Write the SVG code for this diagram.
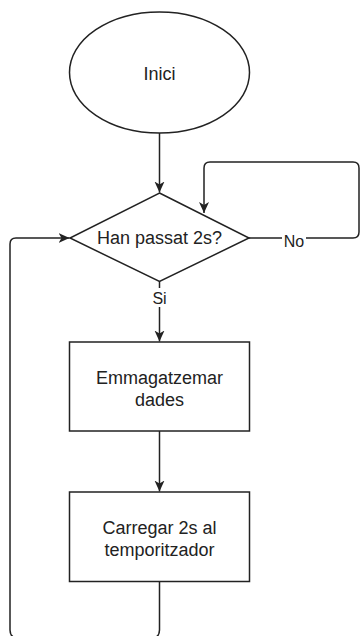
<svg xmlns="http://www.w3.org/2000/svg" width="361" height="636" viewBox="0 0 361 636">
<style>
.shape{fill:#fff;stroke:#222;stroke-width:1.5}
.edge{fill:none;stroke:#222;stroke-width:1.5}
text{font-family:"Liberation Sans",Arial,sans-serif;fill:#222;text-anchor:middle}
.t{font-size:18px}
.l{font-size:16px}
</style>
<defs>
<marker id="arr" viewBox="0 0 12 12" refX="11" refY="6" markerWidth="12" markerHeight="12" markerUnits="userSpaceOnUse" orient="auto">
<path d="M0,1 L11,6 L0,11 L3,6 Z" fill="#222"/>
</marker>
</defs>
<rect width="361" height="636" fill="#fff"/>
<g id="connectors">
<path class="edge" d="M159.5,133 V192.5" marker-end="url(#arr)"/>
<path class="edge" d="M249,238 H353 Q359,238 359,232 V168 Q359,162 353,162 H210 Q204,162 204,168 V213" marker-end="url(#arr)"/>
<path class="edge" d="M159.5,281 V341.5" marker-end="url(#arr)"/>
<path class="edge" d="M159.5,431 V491.5" marker-end="url(#arr)"/>
<path class="edge" d="M159.5,581 V630 Q159.5,638 151.5,638 H18 Q10,638 10,630 V244 Q10,238 16,238 H69.5" marker-end="url(#arr)"/>
</g>
<g id="inici">
<ellipse class="shape" cx="159.5" cy="72.5" rx="90" ry="60.5"/>
<text class="t" x="159.5" y="80">Inici</text>
</g>
<g id="decisio">
<path class="shape" d="M159.5,193 L249,238 L159.5,281.5 L70,238 Z"/>
<text class="t" x="159.5" y="244">Han passat 2s?</text>
</g>
<g id="label-no">
<rect x="282" y="231" width="24" height="18" fill="#fff"/>
<text class="l" x="294" y="247">No</text>
</g>
<g id="label-si">
<rect x="150" y="288" width="19" height="19" fill="#fff"/>
<text class="l" x="159.5" y="304">Si</text>
</g>
<g id="emmagatzemar">
<rect class="shape" x="69.5" y="342" width="180" height="89"/>
<text class="t" x="159.5" y="384">Emmagatzemar</text>
<text class="t" x="159.5" y="406">dades</text>
</g>
<g id="carregar">
<rect class="shape" x="69.5" y="492" width="180" height="89.5"/>
<text class="t" x="159.5" y="534">Carregar 2s al</text>
<text class="t" x="159.5" y="556">temporitzador</text>
</g>
</svg>
